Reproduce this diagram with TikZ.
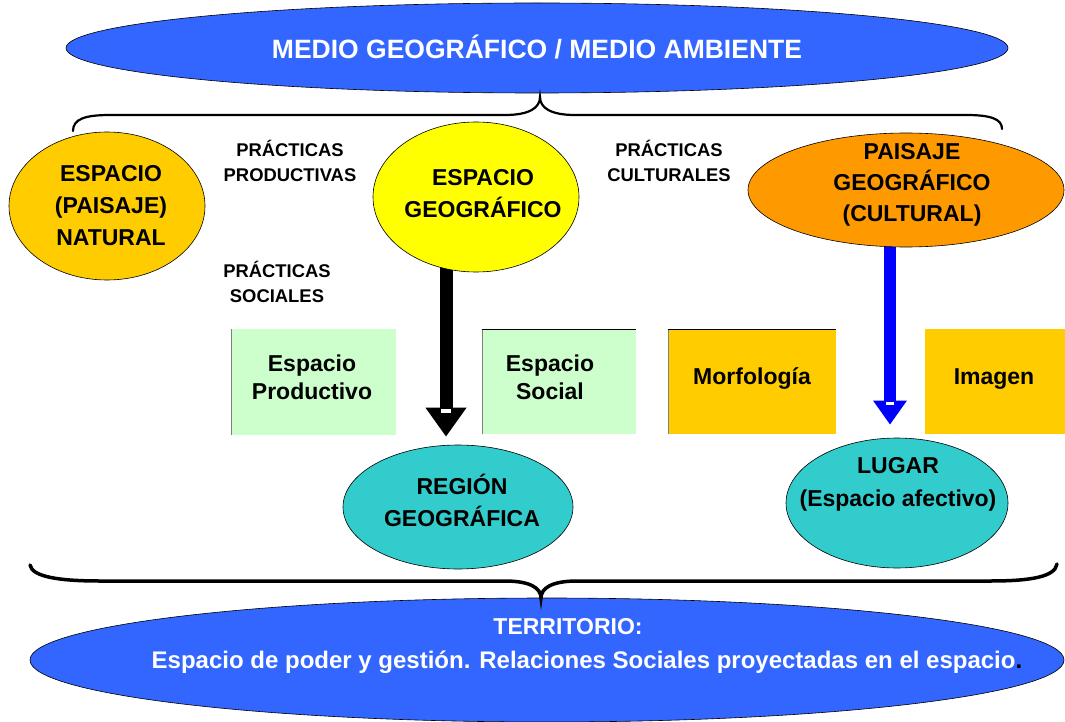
\documentclass[tikz,border=0pt]{standalone}
\usepackage{fontspec}
\setmainfont{Liberation Sans}
\usetikzlibrary{shapes.geometric,arrows.meta,calc}
\definecolor{mblue}{HTML}{3366FF}
\definecolor{gold}{HTML}{FFCC00}
\definecolor{yel}{HTML}{FFFF00}
\definecolor{orng}{HTML}{FF9900}
\definecolor{teal2}{HTML}{33CCCC}
\definecolor{lgreen}{HTML}{CCFFCC}
\definecolor{arrblue}{HTML}{0000FF}
\pgfdeclarelayer{bg}
\pgfsetlayers{bg,main}
\begin{document}
\begin{tikzpicture}[x=1pt,y=-1pt,
  ell/.style={ellipse, draw=black, line width=0.6pt, inner sep=0pt},
  lbl/.style={align=center, inner sep=0pt, font=\fontsize{23}{32}\selectfont\bfseries, text=black},
  boxlbl/.style={align=center, inner sep=0pt, font=\fontsize{23}{28}\selectfont\bfseries, text=black},
  wlbl/.style={align=center, inner sep=0pt, text=white},
  prac/.style={align=center, inner sep=0pt, font=\fontsize{18.4}{25}\selectfont\bfseries},
  boxnode/.style={rectangle, inner sep=0pt, anchor=north west},
  bigarrow/.style={line width=13pt, -{Triangle[width=39pt,length=29pt]}},
  bluearrow/.style={arrblue, line width=12pt, -{Triangle[width=32pt,length=24pt]}},
  bracepath/.style={line width=2.2pt, line cap=round}
  ]
\useasboundingbox (0,0) rectangle (1065,722);

% ellipses
\node[ell, fill=mblue, minimum width=942pt, minimum height=90pt] (medio) at (537,48) {};
\node[wlbl, font=\fontsize{26.5}{30}\selectfont\bfseries] (tmedio) at (537,47) {MEDIO GEOGRÁFICO / MEDIO AMBIENTE};

\node[ell, fill=gold, minimum width=196pt, minimum height=148pt] (nat) at (107,206) {};
\node[lbl] (tnat) at (111,205.5) {ESPACIO\\(PAISAJE)\\NATURAL};

\node[ell, fill=yel, minimum width=206pt, minimum height=150pt] (geo) at (476,197) {};
\node[lbl] (tgeo) at (483,194) {ESPACIO\\GEOGRÁFICO};

\node[ell, fill=orng, minimum width=316pt, minimum height=114pt] (pai) at (906,190) {};
\node[lbl, font=\fontsize{23}{31}\selectfont\bfseries] (tpai) at (912,185) {PAISAJE\\GEOGRÁFICO\\(CULTURAL)};

\node[ell, fill=teal2, minimum width=230pt, minimum height=124pt] (reg) at (458,507) {};
\node[lbl] (treg) at (462,500) {REGIÓN\\GEOGRÁFICA};

\node[ell, fill=teal2, minimum width=222pt, minimum height=130pt] (lug) at (897,503) {};
\node[lbl, font=\fontsize{23}{33}\selectfont\bfseries] (tlug) at (898,484.5) {LUGAR\\(Espacio afectivo)};

\node[ell, fill=mblue, minimum width=1034pt, minimum height=124pt] (terr) at (547,660) {};
\node[wlbl, font=\fontsize{23}{28}\selectfont\bfseries] (tterr1) at (568,627) {TERRITORIO:};
\node[wlbl, font=\fontsize{24}{28}\selectfont\bfseries] (tterr2) at (587,662) {Espacio de poder y gestión. Relaciones Sociales proyectadas en el espacio\textcolor{black}{.}};

% practice labels
\node[prac] (pprod) at (290,160.5) {PRÁCTICAS\\PRODUCTIVAS};
\node[prac] (psoc) at (277,282) {PRÁCTICAS\\SOCIALES};
\node[prac] (pcult) at (669,160.5) {PRÁCTICAS\\CULTURALES};

% boxes
\node[boxnode, fill=lgreen, minimum width=165pt, minimum height=106pt] (prod) at (231,329) {};
\node[boxnode, fill=lgreen, minimum width=154pt, minimum height=105pt] (soc) at (482,329) {};
\node[boxnode, fill=gold, minimum width=168pt, minimum height=105pt] (morf) at (668,329) {};
\node[boxnode, fill=gold, minimum width=140pt, minimum height=105pt] (imag) at (925,329) {};
\draw[gray, line width=0.8pt] (prod.south west) -- (prod.north west);
\draw[gray, line width=0.8pt] (soc.south west) -- (soc.north west);
\draw[black, line width=0.8pt] (soc.north west) -- (soc.north east);
\draw[gray, line width=0.8pt] (morf.south west) -- (morf.north west);
\draw[black, line width=0.8pt] (morf.north west) -- (morf.north east);

\node[boxlbl] (tprod) at (312,377) {Espacio\\Productivo};
\node[boxlbl] (tsoc) at (550,377) {Espacio\\Social};
\node[boxlbl, anchor=base] (tmorf) at (752,384) {Morfología};
\node[boxlbl, anchor=base] (timag) at (994,384) {Imagen};

% arrows (behind the ellipses)
\coordinate (a1) at (446,0);
\coordinate (a2) at (890,0);
\begin{pgfonlayer}{bg}
\draw[bigarrow] (geo.center -| a1) -- ($(reg.north -| a1)+(0,-8)$);
\draw[bluearrow] (pai.center -| a2) -- ($(lug.north -| a2)+(0,-13)$);
\end{pgfonlayer}
\fill[white] (440.5,409) rectangle (451,412.5);
\fill[white] (886,402) rectangle (894,405);

% top brace
\draw[bracepath] (73,131) .. controls (73,119) and (85,115) .. (110,115) -- (505,115)
  .. controls (529,115) and (540,108) .. (540,97)
  .. controls (540,108) and (551,115) .. (575,115) -- (966,115)
  .. controls (991,115) and (1002,119) .. (1002,129);
% bottom brace
\draw[bracepath, line width=3.5pt] (30,565) .. controls (32,577) and (60,581) .. (100,581) -- (505,581)
  .. controls (530,581) and (541,588) .. (541,598)
  .. controls (541,588) and (552,581) .. (577,581) -- (990,581)
  .. controls (1030,581) and (1055,577) .. (1057,564);
\end{tikzpicture}
\end{document}
